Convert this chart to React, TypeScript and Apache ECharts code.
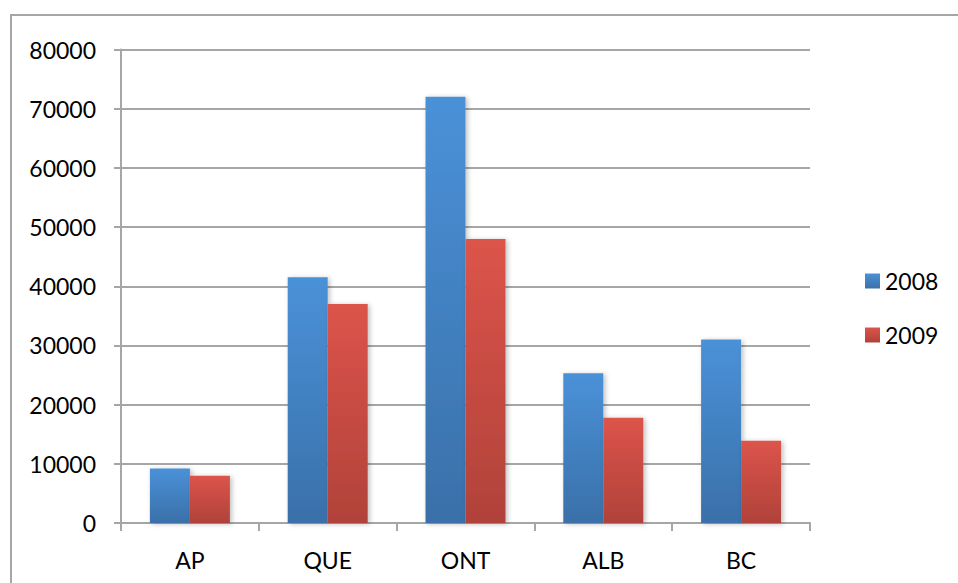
import { useEffect, useRef } from "react"
import * as echarts from "echarts"

const categories = ["AP", "QUE", "ONT", "ALB", "BC"]
const values2008 = [9200, 41500, 72000, 25300, 31000]
const values2009 = [8000, 37000, 48000, 17800, 13900]
const yTicks = { min: 0, max: 80000, interval: 10000 }

const font = "Lato, 'Open Sans', sans-serif"

export default function App() {
  const chartRef = useRef<HTMLDivElement>(null)

  useEffect(() => {
    if (!chartRef.current) return
    const chart = echarts.init(chartRef.current, null, { renderer: "svg" })

    const blue = new echarts.graphic.LinearGradient(0, 0, 0, 1, [
      { offset: 0, color: "#4a91d8" },
      { offset: 1, color: "#3a70a9" },
    ])
    const red = new echarts.graphic.LinearGradient(0, 0, 0, 1, [
      { offset: 0, color: "#dc544a" },
      { offset: 1, color: "#b0423a" },
    ])

    const barShadow = {
      shadowBlur: 5,
      shadowColor: "rgba(0, 0, 0, 0.25)",
      shadowOffsetX: 2,
      shadowOffsetY: 1,
    }

    chart.setOption({
      animation: false,
      graphic: [
        {
          type: "polyline",
          shape: { points: [[11, 583], [11, 15], [958, 15]] },
          style: { stroke: "#a6a6a6", lineWidth: 2, fill: "none" },
          silent: true,
        },
      ],
      grid: { left: 121, right: 148, top: 49.5, bottom: 60, containLabel: false },
      legend: {
        orient: "vertical",
        left: 860,
        top: 264,
        icon: "rect",
        itemWidth: 15,
        itemHeight: 15,
        itemGap: 30,
        textStyle: { fontFamily: font, fontSize: 23, color: "#000", lineHeight: 24 },
        data: ["2008", "2009"],
      },
      xAxis: {
        type: "category",
        data: categories,
        axisLine: { lineStyle: { color: "#a6a6a6", width: 2 } },
        axisTick: { show: true, length: 8, lineStyle: { color: "#a6a6a6", width: 2 } },
        axisLabel: { fontFamily: font, fontSize: 23, color: "#000", margin: 25 },
      },
      yAxis: {
        type: "value",
        ...yTicks,
        axisLine: { show: true, lineStyle: { color: "#a6a6a6", width: 2 } },
        axisTick: { show: true, length: 7, lineStyle: { color: "#a6a6a6", width: 2 } },
        splitLine: { lineStyle: { color: "#a6a6a6", width: 2 } },
        axisLabel: {
          fontFamily: font,
          fontSize: 23,
          color: "#000",
          margin: 25,
          formatter: (v: number) => String(v),
        },
      },
      series: [
        {
          name: "2008",
          type: "bar",
          data: values2008,
          barWidth: 40,
          barGap: "0%",
          itemStyle: { color: blue, ...barShadow },
        },
        {
          name: "2009",
          type: "bar",
          data: values2009,
          barWidth: 40,
          barGap: "0%",
          itemStyle: { color: red, ...barShadow },
        },
      ],
    })

    return () => {
      chart.dispose()
    }
  }, [])

  return (
    <div
      ref={chartRef}
      style={{ position: "fixed", left: 0, top: 0, width: "958px", height: "583px", background: "#fff" }}
    />
  )
}
